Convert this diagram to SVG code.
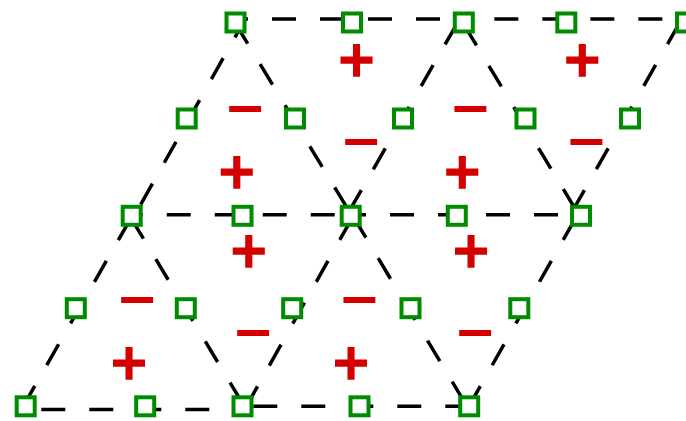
<svg xmlns="http://www.w3.org/2000/svg" width="686" height="421" viewBox="0 0 686 421">
<style>
.e{fill:none;stroke:#000;stroke-width:3.5;stroke-dasharray:24 24}
.sq{fill:#fff;stroke:#008c00;stroke-width:4}
.q{font-family:"DejaVu Sans",sans-serif;font-weight:bold;font-size:51px;fill:#d40000;text-anchor:middle}
.p{font-size:49px;stroke:#d40000;stroke-width:1.4}
</style>
<rect width="686" height="421" fill="#fff"/>
<g id="edges">
<line class="e" x1="243.3" y1="22.5" x2="134.6" y2="215.3" stroke-dashoffset="7"/>
<line class="e" x1="132.5" y1="215.3" x2="23.3" y2="406" stroke-dashoffset="43.4"/>
<line class="e" x1="457.7" y1="22.5" x2="346.7" y2="215.5" stroke-dashoffset="46.7"/>
<line class="e" x1="353.3" y1="215.8" x2="246.4" y2="406.3" stroke-dashoffset="44.3"/>
<line class="e" x1="680.1" y1="22" x2="569.8" y2="215.8" stroke-dashoffset="46.6"/>
<line class="e" x1="576.9" y1="215.8" x2="468.9" y2="406.3" stroke-dashoffset="44.2"/>
<line class="e" x1="234.9" y1="22.5" x2="351.7" y2="215.5" stroke-dashoffset="47.3"/>
<line class="e" x1="352.8" y1="215.8" x2="466.9" y2="406.3" stroke-dashoffset="46.6"/>
<line class="e" x1="462.7" y1="22.5" x2="579.4" y2="215.8" stroke-dashoffset="45.3"/>
<line class="e" x1="129.4" y1="215.3" x2="244.3" y2="406.3" stroke-dashoffset="44.8"/>
<line class="e" x1="235.5" y1="19" x2="463.7" y2="19" stroke-dashoffset="11.5"/>
<line class="e" x1="463.7" y1="19" x2="686" y2="19" stroke-dashoffset="17.4"/>
<line class="e" x1="131.7" y1="214.7" x2="350.7" y2="214.7" stroke-dashoffset="13"/>
<line class="e" x1="350.7" y1="214.7" x2="581" y2="214.7" stroke-dashoffset="8.7"/>
<line class="e" x1="25.7" y1="409.5" x2="242.5" y2="409.5" stroke-dashoffset="32.4"/>
<line class="e" x1="242.5" y1="406.2" x2="469.2" y2="406.2" stroke-dashoffset="37.2"/>
</g>
<g id="n1"><rect class="sq" x="226.5" y="13.5" width="18" height="18"/></g>
<g id="n2"><rect class="sq" x="343" y="13.5" width="18" height="18"/></g>
<g id="n3"><rect class="sq" x="454.8" y="13.5" width="18" height="18"/></g>
<g id="n4"><rect class="sq" x="557.3" y="13.5" width="18" height="18"/></g>
<g id="n5"><rect class="sq" x="677" y="13.5" width="18" height="18"/></g>
<g id="n6"><rect class="sq" x="177.7" y="109.5" width="18" height="18"/></g>
<g id="n7"><rect class="sq" x="286" y="109.5" width="18" height="18"/></g>
<g id="n8"><rect class="sq" x="394" y="109.5" width="18" height="18"/></g>
<g id="n9"><rect class="sq" x="516.5" y="109.5" width="18" height="18"/></g>
<g id="n10"><rect class="sq" x="621" y="109.5" width="18" height="18"/></g>
<g id="n11"><rect class="sq" x="122.7" y="206.8" width="18" height="18"/></g>
<g id="n12"><rect class="sq" x="233.5" y="206.8" width="18" height="18"/></g>
<g id="n13"><rect class="sq" x="341.7" y="206.8" width="18" height="18"/></g>
<g id="n14"><rect class="sq" x="447.8" y="206.8" width="18" height="18"/></g>
<g id="n15"><rect class="sq" x="572" y="206.8" width="18" height="18"/></g>
<g id="n16"><rect class="sq" x="66.8" y="299.2" width="18" height="18"/></g>
<g id="n17"><rect class="sq" x="176.8" y="299.2" width="18" height="18"/></g>
<g id="n18"><rect class="sq" x="283.2" y="299.2" width="18" height="18"/></g>
<g id="n19"><rect class="sq" x="401.5" y="299.2" width="18" height="18"/></g>
<g id="n20"><rect class="sq" x="510.3" y="299.2" width="18" height="18"/></g>
<g id="n21"><rect class="sq" x="16.7" y="397.3" width="18" height="18"/></g>
<g id="n22"><rect class="sq" x="136.2" y="397.3" width="18" height="18"/></g>
<g id="n23"><rect class="sq" x="233.5" y="397.3" width="18" height="18"/></g>
<g id="n24"><rect class="sq" x="350.5" y="397.3" width="18" height="18"/></g>
<g id="n25"><rect class="sq" x="460.2" y="397.3" width="18" height="18"/></g>
<g id="charges">
<text class="q p" x="356.5" y="76">+</text>
<text class="q p" x="582.2" y="76">+</text>
<text class="q p" x="236.7" y="187.7">+</text>
<text class="q p" x="462.3" y="187.7">+</text>
<text class="q p" x="248.7" y="266.9">+</text>
<text class="q p" x="471" y="266.9">+</text>
<text class="q p" x="129" y="378.7">+</text>
<text class="q p" x="351" y="378.7">+</text>
<text class="q" x="245.3" y="125.3">−</text>
<text class="q" x="470.5" y="125.3">−</text>
<text class="q" x="361.3" y="158.1">−</text>
<text class="q" x="586.5" y="158.1">−</text>
<text class="q" x="137.3" y="316.1">−</text>
<text class="q" x="359.5" y="316.1">−</text>
<text class="q" x="253.3" y="349.1">−</text>
<text class="q" x="475.3" y="349.1">−</text>
</g>
</svg>
